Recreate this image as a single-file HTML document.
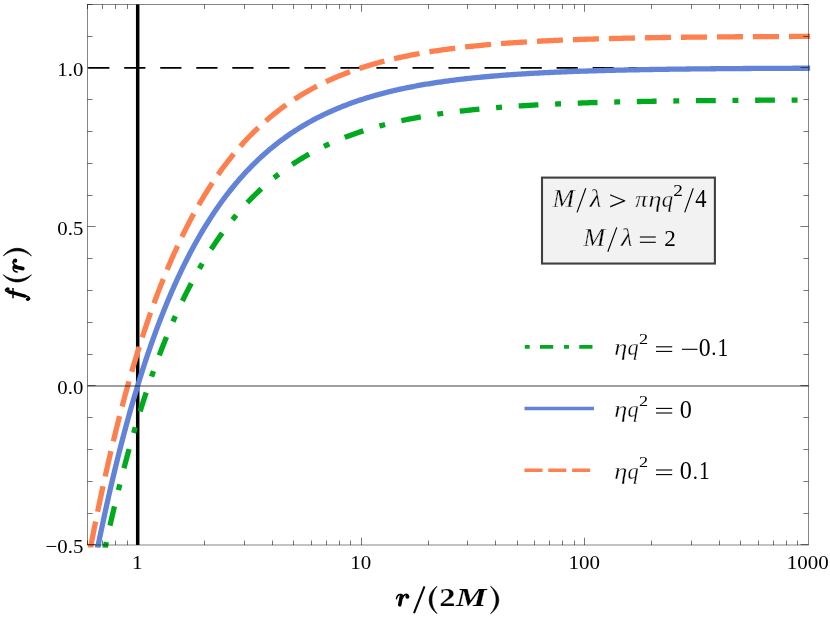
<!DOCTYPE html><html><head><meta charset="utf-8"><title>plot</title>
<style>html,body{margin:0;padding:0;background:#fff;}svg{display:block;will-change:transform;}text{font-family:"Liberation Serif",serif;fill:#000;}</style></head><body>
<svg width="830" height="619" viewBox="0 0 830 619">
<rect width="830" height="619" fill="#fff"/>
<line x1="137.70" y1="4.5" x2="137.70" y2="545.0" stroke="#000" stroke-width="3.5"/>
<line x1="87.5" y1="67.90" x2="808.5" y2="67.90" stroke="#000" stroke-width="1.6" stroke-dasharray="21.2 14.83" stroke-dashoffset="-0.7"/>
<defs><clipPath id="cp"><rect x="80" y="0" width="740" height="547.6"/></clipPath></defs><g clip-path="url(#cp)">
<path d="M105.80,544.61 L104.67,549.79" fill="none" stroke="#00aa1e" stroke-width="5.3"/>
<path d="M98.29,544.61 L97.22,549.80" fill="none" stroke="#6283d7" stroke-width="5.3"/>
<path d="M91.08,544.61 L90.07,549.81" fill="none" stroke="#fd804e" stroke-width="5.3"/>
<path d="M105.73,544.90 L107.14,538.46 L108.54,532.12 L109.94,525.87 L111.35,519.71 L112.75,513.64 L114.15,507.66 L115.56,501.76 L116.96,495.95 L118.37,490.23 L119.77,484.58 L121.17,479.02 L122.58,473.54 L123.98,468.14 L125.38,462.82 L126.79,457.58 L128.19,452.41 L129.59,447.32 L131.00,442.30 L132.40,437.35 L133.80,432.48 L135.21,427.68 L136.61,422.94 L138.01,418.28 L139.42,413.68 L140.82,409.15 L142.23,404.68 L143.63,400.28 L145.03,395.95 L146.44,391.67 L147.84,387.46 L149.24,383.31 L150.65,379.22 L152.05,375.19 L153.45,371.21 L154.86,367.30 L156.26,363.44 L157.66,359.64 L159.07,355.89 L160.47,352.20 L161.87,348.56 L163.28,344.97 L164.68,341.43 L166.09,337.95 L167.49,334.51 L168.89,331.13 L170.30,327.79 L171.70,324.51 L173.10,321.27 L174.51,318.08 L175.91,314.93 L177.31,311.83 L178.72,308.77 L180.12,305.76 L181.52,302.79 L182.93,299.87 L184.33,296.98 L185.73,294.14 L187.14,291.34 L188.54,288.58 L189.95,285.86 L191.35,283.18 L192.75,280.54 L194.16,277.94 L195.56,275.37 L196.96,272.84 L198.37,270.35 L199.77,267.89 L201.17,265.47 L202.58,263.08 L203.98,260.73 L205.38,258.42 L206.79,256.13 L208.19,253.88 L209.59,251.66 L211.00,249.47 L212.40,247.32 L213.81,245.19 L215.21,243.10 L216.61,241.04 L218.02,239.00 L219.42,237.00 L220.82,235.02 L222.23,233.08 L223.63,231.16 L225.03,229.27 L226.44,227.40 L227.84,225.57 L229.24,223.76 L230.65,221.97 L232.05,220.21 L233.45,218.48 L234.86,216.77 L236.26,215.09 L237.67,213.43 L239.07,211.79 L240.47,210.18 L241.88,208.59 L243.28,207.03 L244.68,205.48 L246.09,203.96 L247.49,202.46 L248.89,200.99 L250.30,199.53 L251.70,198.09 L253.10,196.68 L254.51,195.29 L255.91,193.91 L257.32,192.56 L258.72,191.22 L260.12,189.91 L261.53,188.61 L262.93,187.33 L264.33,186.07 L265.74,184.83 L267.14,183.61 L268.54,182.40 L269.95,181.21 L271.35,180.04 L272.75,178.89 L274.16,177.75 L275.56,176.63 L276.96,175.52 L278.37,174.43 L279.77,173.36 L281.18,172.30 L282.58,171.26 L283.98,170.23 L285.39,169.22 L286.79,168.22 L288.19,167.23 L289.60,166.26 L291.00,165.31 L292.40,164.36 L293.81,163.43 L295.21,162.52 L296.61,161.62 L298.02,160.73 L299.42,159.85 L300.82,158.99 L302.23,158.13 L303.63,157.29 L305.04,156.47 L306.44,155.65 L307.84,154.85 L309.25,154.06 L310.65,153.27 L312.05,152.51 L313.46,151.75 L314.86,151.00 L316.26,150.26 L317.67,149.54 L319.07,148.82 L320.47,148.11 L321.88,147.42 L323.28,146.73 L324.68,146.06 L326.09,145.39 L327.49,144.74 L328.90,144.09 L330.30,143.45 L331.70,142.82 L333.11,142.20 L334.51,141.59 L335.91,140.99 L337.32,140.40 L338.72,139.81 L340.12,139.24 L341.53,138.67 L342.93,138.11 L344.33,137.56 L345.74,137.02 L347.14,136.48 L348.54,135.95 L349.95,135.43 L351.35,134.92 L352.76,134.41 L354.16,133.91 L355.56,133.42 L356.97,132.94 L358.37,132.46 L359.77,131.99 L361.18,131.53 L362.58,131.07 L363.98,130.62 L365.39,130.18 L366.79,129.74 L368.19,129.31 L369.60,128.88 L371.00,128.46 L372.40,128.05 L373.81,127.64 L375.21,127.24 L376.62,126.85 L378.02,126.46 L379.42,126.07 L380.83,125.69 L382.23,125.32 L383.63,124.95 L385.04,124.59 L386.44,124.23 L387.84,123.88 L389.25,123.53 L390.65,123.19 L392.05,122.85 L393.46,122.52 L394.86,122.19 L396.26,121.87 L397.67,121.55 L399.07,121.24 L400.48,120.93 L401.88,120.63 L403.28,120.33 L404.69,120.03 L406.09,119.74 L407.49,119.45 L408.90,119.17 L410.30,118.89 L411.70,118.61 L413.11,118.34 L414.51,118.07 L415.91,117.81 L417.32,117.55 L418.72,117.29 L420.12,117.04 L421.53,116.79 L422.93,116.55 L424.34,116.30 L425.74,116.07 L427.14,115.83 L428.55,115.60 L429.95,115.37 L431.35,115.15 L432.76,114.92 L434.16,114.71 L435.56,114.49 L436.97,114.28 L438.37,114.07 L439.77,113.86 L441.18,113.66 L442.58,113.46 L443.98,113.26 L445.39,113.07 L446.79,112.87 L448.20,112.69 L449.60,112.50 L451.00,112.32 L452.41,112.13 L453.81,111.96 L455.21,111.78 L456.62,111.61 L458.02,111.44 L459.42,111.27 L460.83,111.10 L462.23,110.94 L463.63,110.78 L465.04,110.62 L466.44,110.46 L467.85,110.31 L469.25,110.15 L470.65,110.00 L472.06,109.86 L473.46,109.71 L474.86,109.57 L476.27,109.43 L477.67,109.29 L479.07,109.15 L480.48,109.01 L481.88,108.88 L483.28,108.75 L484.69,108.62 L486.09,108.49 L487.49,108.36 L488.90,108.24 L490.30,108.12 L491.71,108.00 L493.11,107.88 L494.51,107.76 L495.92,107.64 L497.32,107.53 L498.72,107.42 L500.13,107.31 L501.53,107.20 L502.93,107.09 L504.34,106.98 L505.74,106.88 L507.14,106.78 L508.55,106.67 L509.95,106.57 L511.35,106.48 L512.76,106.38 L514.16,106.28 L515.57,106.19 L516.97,106.10 L518.37,106.00 L519.78,105.91 L521.18,105.82 L522.58,105.74 L523.99,105.65 L525.39,105.56 L526.79,105.48 L528.20,105.40 L529.60,105.31 L531.00,105.23 L532.41,105.15 L533.81,105.08 L535.21,105.00 L536.62,104.92 L538.02,104.85 L539.43,104.77 L540.83,104.70 L542.23,104.63 L543.64,104.56 L545.04,104.49 L546.44,104.42 L547.85,104.35 L549.25,104.29 L550.65,104.22 L552.06,104.16 L553.46,104.09 L554.86,104.03 L556.27,103.97 L557.67,103.91 L559.07,103.84 L560.48,103.79 L561.88,103.73 L563.29,103.67 L564.69,103.61 L566.09,103.56 L567.50,103.50 L568.90,103.45 L570.30,103.39 L571.71,103.34 L573.11,103.29 L574.51,103.24 L575.92,103.18 L577.32,103.13 L578.72,103.09 L580.13,103.04 L581.53,102.99 L582.93,102.94 L584.34,102.90 L585.74,102.85 L587.15,102.80 L588.55,102.76 L589.95,102.72 L591.36,102.67 L592.76,102.63 L594.16,102.59 L595.57,102.55 L596.97,102.51 L598.37,102.47 L599.78,102.43 L601.18,102.39 L602.58,102.35 L603.99,102.31 L605.39,102.27 L606.79,102.24 L608.20,102.20 L609.60,102.16 L611.01,102.13 L612.41,102.09 L613.81,102.06 L615.22,102.02 L616.62,101.99 L618.02,101.96 L619.43,101.93 L620.83,101.89 L622.23,101.86 L623.64,101.83 L625.04,101.80 L626.44,101.77 L627.85,101.74 L629.25,101.71 L630.65,101.68 L632.06,101.65 L633.46,101.63 L634.87,101.60 L636.27,101.57 L637.67,101.54 L639.08,101.52 L640.48,101.49 L641.88,101.47 L643.29,101.44 L644.69,101.42 L646.09,101.39 L647.50,101.37 L648.90,101.34 L650.30,101.32 L651.71,101.30 L653.11,101.27 L654.51,101.25 L655.92,101.23 L657.32,101.21 L658.73,101.19 L660.13,101.16 L661.53,101.14 L662.94,101.12 L664.34,101.10 L665.74,101.08 L667.15,101.06 L668.55,101.04 L669.95,101.02 L671.36,101.00 L672.76,100.99 L674.16,100.97 L675.57,100.95 L676.97,100.93 L678.37,100.91 L679.78,100.90 L681.18,100.88 L682.59,100.86 L683.99,100.85 L685.39,100.83 L686.80,100.81 L688.20,100.80 L689.60,100.78 L691.01,100.77 L692.41,100.75 L693.81,100.73 L695.22,100.72 L696.62,100.71 L698.02,100.69 L699.43,100.68 L700.83,100.66 L702.24,100.65 L703.64,100.64 L705.04,100.62 L706.45,100.61 L707.85,100.60 L709.25,100.58 L710.66,100.57 L712.06,100.56 L713.46,100.55 L714.87,100.53 L716.27,100.52 L717.67,100.51 L719.08,100.50 L720.48,100.49 L721.88,100.48 L723.29,100.46 L724.69,100.45 L726.10,100.44 L727.50,100.43 L728.90,100.42 L730.31,100.41 L731.71,100.40 L733.11,100.39 L734.52,100.38 L735.92,100.37 L737.32,100.36 L738.73,100.35 L740.13,100.34 L741.53,100.33 L742.94,100.32 L744.34,100.32 L745.74,100.31 L747.15,100.30 L748.55,100.29 L749.96,100.28 L751.36,100.27 L752.76,100.26 L754.17,100.26 L755.57,100.25 L756.97,100.24 L758.38,100.23 L759.78,100.22 L761.18,100.22 L762.59,100.21 L763.99,100.20 L765.39,100.20 L766.80,100.19 L768.20,100.18 L769.60,100.17 L771.01,100.17 L772.41,100.16 L773.82,100.15 L775.22,100.15 L776.62,100.14 L778.03,100.13 L779.43,100.13 L780.83,100.12 L782.24,100.12 L783.64,100.11 L785.04,100.10 L786.45,100.10 L787.85,100.09 L789.25,100.09 L790.66,100.08 L792.06,100.08 L793.46,100.07 L794.87,100.07 L796.27,100.06 L797.68,100.06 L799.08,100.05 L800.48,100.05 L801.89,100.04 L803.29,100.04 L804.69,100.03 L806.10,100.03 L807.50,100.02" fill="none" stroke="#00aa1e" stroke-width="5.3" stroke-linecap="square" stroke-dasharray="0.6 22.02 14.5 22.02" stroke-dashoffset="0.3"/>
<path d="M98.23,544.90 L99.64,537.98 L101.06,531.17 L102.48,524.45 L103.90,517.83 L105.32,511.30 L106.74,504.87 L108.16,498.54 L109.57,492.29 L110.99,486.14 L112.41,480.07 L113.83,474.09 L115.25,468.20 L116.67,462.40 L118.09,456.68 L119.50,451.04 L120.92,445.48 L122.34,440.01 L123.76,434.61 L125.18,429.29 L126.60,424.05 L128.02,418.89 L129.43,413.80 L130.85,408.78 L132.27,403.84 L133.69,398.97 L135.11,394.17 L136.53,389.43 L137.95,384.77 L139.36,380.18 L140.78,375.65 L142.20,371.18 L143.62,366.79 L145.04,362.45 L146.46,358.18 L147.88,353.97 L149.29,349.82 L150.71,345.73 L152.13,341.70 L153.55,337.73 L154.97,333.82 L156.39,329.96 L157.81,326.16 L159.22,322.42 L160.64,318.73 L162.06,315.09 L163.48,311.51 L164.90,307.97 L166.32,304.49 L167.73,301.06 L169.15,297.68 L170.57,294.35 L171.99,291.06 L173.41,287.83 L174.83,284.64 L176.25,281.50 L177.66,278.40 L179.08,275.34 L180.50,272.34 L181.92,269.37 L183.34,266.45 L184.76,263.57 L186.18,260.73 L187.59,257.94 L189.01,255.18 L190.43,252.47 L191.85,249.79 L193.27,247.15 L194.69,244.55 L196.11,241.99 L197.52,239.47 L198.94,236.98 L200.36,234.53 L201.78,232.11 L203.20,229.73 L204.62,227.38 L206.04,225.07 L207.45,222.79 L208.87,220.54 L210.29,218.33 L211.71,216.15 L213.13,214.00 L214.55,211.88 L215.97,209.79 L217.38,207.73 L218.80,205.71 L220.22,203.71 L221.64,201.74 L223.06,199.80 L224.48,197.88 L225.90,196.00 L227.31,194.14 L228.73,192.31 L230.15,190.51 L231.57,188.73 L232.99,186.98 L234.41,185.25 L235.83,183.55 L237.24,181.87 L238.66,180.22 L240.08,178.59 L241.50,176.98 L242.92,175.40 L244.34,173.84 L245.75,172.31 L247.17,170.79 L248.59,169.30 L250.01,167.83 L251.43,166.38 L252.85,164.95 L254.27,163.55 L255.68,162.16 L257.10,160.79 L258.52,159.44 L259.94,158.12 L261.36,156.81 L262.78,155.52 L264.20,154.25 L265.61,153.00 L267.03,151.76 L268.45,150.55 L269.87,149.35 L271.29,148.17 L272.71,147.00 L274.13,145.86 L275.54,144.72 L276.96,143.61 L278.38,142.51 L279.80,141.43 L281.22,140.36 L282.64,139.31 L284.06,138.28 L285.47,137.26 L286.89,136.25 L288.31,135.26 L289.73,134.28 L291.15,133.32 L292.57,132.37 L293.99,131.44 L295.40,130.52 L296.82,129.61 L298.24,128.71 L299.66,127.83 L301.08,126.96 L302.50,126.11 L303.92,125.26 L305.33,124.43 L306.75,123.61 L308.17,122.80 L309.59,122.01 L311.01,121.22 L312.43,120.45 L313.85,119.69 L315.26,118.93 L316.68,118.19 L318.10,117.47 L319.52,116.75 L320.94,116.04 L322.36,115.34 L323.78,114.65 L325.19,113.97 L326.61,113.31 L328.03,112.65 L329.45,112.00 L330.87,111.36 L332.29,110.73 L333.70,110.11 L335.12,109.50 L336.54,108.89 L337.96,108.30 L339.38,107.71 L340.80,107.13 L342.22,106.57 L343.63,106.01 L345.05,105.45 L346.47,104.91 L347.89,104.37 L349.31,103.84 L350.73,103.32 L352.15,102.81 L353.56,102.30 L354.98,101.80 L356.40,101.31 L357.82,100.83 L359.24,100.35 L360.66,99.88 L362.08,99.41 L363.49,98.96 L364.91,98.51 L366.33,98.06 L367.75,97.63 L369.17,97.19 L370.59,96.77 L372.01,96.35 L373.42,95.94 L374.84,95.53 L376.26,95.13 L377.68,94.74 L379.10,94.35 L380.52,93.96 L381.94,93.59 L383.35,93.21 L384.77,92.85 L386.19,92.48 L387.61,92.13 L389.03,91.78 L390.45,91.43 L391.87,91.09 L393.28,90.75 L394.70,90.42 L396.12,90.09 L397.54,89.77 L398.96,89.46 L400.38,89.14 L401.80,88.84 L403.21,88.53 L404.63,88.23 L406.05,87.94 L407.47,87.65 L408.89,87.36 L410.31,87.08 L411.73,86.80 L413.14,86.53 L414.56,86.26 L415.98,85.99 L417.40,85.73 L418.82,85.47 L420.24,85.21 L421.65,84.96 L423.07,84.72 L424.49,84.47 L425.91,84.23 L427.33,83.99 L428.75,83.76 L430.17,83.53 L431.58,83.30 L433.00,83.08 L434.42,82.86 L435.84,82.64 L437.26,82.43 L438.68,82.22 L440.10,82.01 L441.51,81.81 L442.93,81.61 L444.35,81.41 L445.77,81.21 L447.19,81.02 L448.61,80.83 L450.03,80.64 L451.44,80.46 L452.86,80.27 L454.28,80.09 L455.70,79.92 L457.12,79.74 L458.54,79.57 L459.96,79.40 L461.37,79.23 L462.79,79.07 L464.21,78.91 L465.63,78.75 L467.05,78.59 L468.47,78.44 L469.89,78.28 L471.30,78.13 L472.72,77.98 L474.14,77.84 L475.56,77.69 L476.98,77.55 L478.40,77.41 L479.82,77.27 L481.23,77.14 L482.65,77.00 L484.07,76.87 L485.49,76.74 L486.91,76.61 L488.33,76.49 L489.75,76.36 L491.16,76.24 L492.58,76.12 L494.00,76.00 L495.42,75.88 L496.84,75.77 L498.26,75.65 L499.68,75.54 L501.09,75.43 L502.51,75.32 L503.93,75.21 L505.35,75.11 L506.77,75.00 L508.19,74.90 L509.60,74.80 L511.02,74.70 L512.44,74.60 L513.86,74.50 L515.28,74.41 L516.70,74.31 L518.12,74.22 L519.53,74.13 L520.95,74.04 L522.37,73.95 L523.79,73.86 L525.21,73.77 L526.63,73.69 L528.05,73.60 L529.46,73.52 L530.88,73.44 L532.30,73.36 L533.72,73.28 L535.14,73.20 L536.56,73.13 L537.98,73.05 L539.39,72.98 L540.81,72.90 L542.23,72.83 L543.65,72.76 L545.07,72.69 L546.49,72.62 L547.91,72.55 L549.32,72.48 L550.74,72.42 L552.16,72.35 L553.58,72.29 L555.00,72.22 L556.42,72.16 L557.84,72.10 L559.25,72.04 L560.67,71.98 L562.09,71.92 L563.51,71.86 L564.93,71.80 L566.35,71.75 L567.77,71.69 L569.18,71.63 L570.60,71.58 L572.02,71.53 L573.44,71.47 L574.86,71.42 L576.28,71.37 L577.70,71.32 L579.11,71.27 L580.53,71.22 L581.95,71.17 L583.37,71.13 L584.79,71.08 L586.21,71.03 L587.63,70.99 L589.04,70.94 L590.46,70.90 L591.88,70.86 L593.30,70.81 L594.72,70.77 L596.14,70.73 L597.55,70.69 L598.97,70.65 L600.39,70.61 L601.81,70.57 L603.23,70.53 L604.65,70.49 L606.07,70.45 L607.48,70.42 L608.90,70.38 L610.32,70.35 L611.74,70.31 L613.16,70.27 L614.58,70.24 L616.00,70.21 L617.41,70.17 L618.83,70.14 L620.25,70.11 L621.67,70.08 L623.09,70.04 L624.51,70.01 L625.93,69.98 L627.34,69.95 L628.76,69.92 L630.18,69.89 L631.60,69.86 L633.02,69.84 L634.44,69.81 L635.86,69.78 L637.27,69.75 L638.69,69.73 L640.11,69.70 L641.53,69.67 L642.95,69.65 L644.37,69.62 L645.79,69.60 L647.20,69.57 L648.62,69.55 L650.04,69.52 L651.46,69.50 L652.88,69.48 L654.30,69.45 L655.72,69.43 L657.13,69.41 L658.55,69.39 L659.97,69.37 L661.39,69.35 L662.81,69.32 L664.23,69.30 L665.65,69.28 L667.06,69.26 L668.48,69.24 L669.90,69.22 L671.32,69.20 L672.74,69.19 L674.16,69.17 L675.58,69.15 L676.99,69.13 L678.41,69.11 L679.83,69.10 L681.25,69.08 L682.67,69.06 L684.09,69.04 L685.50,69.03 L686.92,69.01 L688.34,68.99 L689.76,68.98 L691.18,68.96 L692.60,68.95 L694.02,68.93 L695.43,68.92 L696.85,68.90 L698.27,68.89 L699.69,68.87 L701.11,68.86 L702.53,68.85 L703.95,68.83 L705.36,68.82 L706.78,68.81 L708.20,68.79 L709.62,68.78 L711.04,68.77 L712.46,68.75 L713.88,68.74 L715.29,68.73 L716.71,68.72 L718.13,68.71 L719.55,68.69 L720.97,68.68 L722.39,68.67 L723.81,68.66 L725.22,68.65 L726.64,68.64 L728.06,68.63 L729.48,68.62 L730.90,68.61 L732.32,68.60 L733.74,68.59 L735.15,68.58 L736.57,68.57 L737.99,68.56 L739.41,68.55 L740.83,68.54 L742.25,68.53 L743.67,68.52 L745.08,68.51 L746.50,68.50 L747.92,68.49 L749.34,68.48 L750.76,68.48 L752.18,68.47 L753.60,68.46 L755.01,68.45 L756.43,68.44 L757.85,68.44 L759.27,68.43 L760.69,68.42 L762.11,68.41 L763.53,68.40 L764.94,68.40 L766.36,68.39 L767.78,68.38 L769.20,68.38 L770.62,68.37 L772.04,68.36 L773.45,68.36 L774.87,68.35 L776.29,68.34 L777.71,68.34 L779.13,68.33 L780.55,68.32 L781.97,68.32 L783.38,68.31 L784.80,68.31 L786.22,68.30 L787.64,68.29 L789.06,68.29 L790.48,68.28 L791.90,68.28 L793.31,68.27 L794.73,68.27 L796.15,68.26 L797.57,68.26 L798.99,68.25 L800.41,68.25 L801.83,68.24 L803.24,68.24 L804.66,68.23 L806.08,68.23 L807.50,68.22" fill="none" stroke="#6283d7" stroke-width="5.3" stroke-linecap="square"/>
<path d="M91.02,544.90 L92.46,537.51 L93.89,530.23 L95.32,523.05 L96.75,515.98 L98.19,509.01 L99.62,502.14 L101.05,495.37 L102.49,488.69 L103.92,482.12 L105.35,475.63 L106.78,469.25 L108.22,462.95 L109.65,456.74 L111.08,450.63 L112.52,444.60 L113.95,438.66 L115.38,432.81 L116.82,427.04 L118.25,421.35 L119.68,415.75 L121.11,410.22 L122.55,404.78 L123.98,399.42 L125.41,394.13 L126.85,388.92 L128.28,383.79 L129.71,378.72 L131.15,373.74 L132.58,368.82 L134.01,363.98 L135.44,359.20 L136.88,354.50 L138.31,349.86 L139.74,345.29 L141.18,340.79 L142.61,336.35 L144.04,331.98 L145.47,327.67 L146.91,323.42 L148.34,319.24 L149.77,315.11 L151.21,311.04 L152.64,307.04 L154.07,303.09 L155.51,299.20 L156.94,295.36 L158.37,291.58 L159.80,287.86 L161.24,284.19 L162.67,280.57 L164.10,277.01 L165.54,273.50 L166.97,270.03 L168.40,266.62 L169.83,263.26 L171.27,259.95 L172.70,256.68 L174.13,253.46 L175.57,250.29 L177.00,247.17 L178.43,244.09 L179.87,241.06 L181.30,238.06 L182.73,235.12 L184.16,232.21 L185.60,229.35 L187.03,226.53 L188.46,223.75 L189.90,221.01 L191.33,218.31 L192.76,215.65 L194.20,213.03 L195.63,210.45 L197.06,207.91 L198.49,205.40 L199.93,202.92 L201.36,200.49 L202.79,198.09 L204.23,195.72 L205.66,193.39 L207.09,191.10 L208.52,188.83 L209.96,186.60 L211.39,184.40 L212.82,182.24 L214.26,180.10 L215.69,178.00 L217.12,175.93 L218.56,173.88 L219.99,171.87 L221.42,169.89 L222.85,167.93 L224.29,166.01 L225.72,164.11 L227.15,162.24 L228.59,160.39 L230.02,158.58 L231.45,156.79 L232.88,155.02 L234.32,153.29 L235.75,151.57 L237.18,149.89 L238.62,148.22 L240.05,146.58 L241.48,144.97 L242.92,143.38 L244.35,141.81 L245.78,140.26 L247.21,138.74 L248.65,137.24 L250.08,135.76 L251.51,134.31 L252.95,132.87 L254.38,131.46 L255.81,130.06 L257.25,128.69 L258.68,127.33 L260.11,126.00 L261.54,124.68 L262.98,123.39 L264.41,122.11 L265.84,120.86 L267.28,119.62 L268.71,118.39 L270.14,117.19 L271.57,116.00 L273.01,114.84 L274.44,113.68 L275.87,112.55 L277.31,111.43 L278.74,110.33 L280.17,109.24 L281.61,108.17 L283.04,107.12 L284.47,106.08 L285.90,105.06 L287.34,104.05 L288.77,103.05 L290.20,102.08 L291.64,101.11 L293.07,100.16 L294.50,99.22 L295.94,98.30 L297.37,97.39 L298.80,96.49 L300.23,95.61 L301.67,94.74 L303.10,93.88 L304.53,93.03 L305.97,92.20 L307.40,91.38 L308.83,90.57 L310.26,89.77 L311.70,88.99 L313.13,88.21 L314.56,87.45 L316.00,86.70 L317.43,85.96 L318.86,85.23 L320.30,84.51 L321.73,83.80 L323.16,83.11 L324.59,82.42 L326.03,81.74 L327.46,81.07 L328.89,80.41 L330.33,79.76 L331.76,79.13 L333.19,78.50 L334.62,77.88 L336.06,77.26 L337.49,76.66 L338.92,76.07 L340.36,75.48 L341.79,74.91 L343.22,74.34 L344.66,73.78 L346.09,73.23 L347.52,72.68 L348.95,72.15 L350.39,71.62 L351.82,71.10 L353.25,70.59 L354.69,70.08 L356.12,69.59 L357.55,69.10 L358.99,68.61 L360.42,68.14 L361.85,67.67 L363.28,67.21 L364.72,66.75 L366.15,66.30 L367.58,65.86 L369.02,65.42 L370.45,64.99 L371.88,64.57 L373.31,64.15 L374.75,63.74 L376.18,63.34 L377.61,62.94 L379.05,62.55 L380.48,62.16 L381.91,61.78 L383.35,61.40 L384.78,61.03 L386.21,60.67 L387.64,60.31 L389.08,59.95 L390.51,59.60 L391.94,59.26 L393.38,58.92 L394.81,58.59 L396.24,58.26 L397.67,57.93 L399.11,57.61 L400.54,57.30 L401.97,56.99 L403.41,56.68 L404.84,56.38 L406.27,56.08 L407.71,55.79 L409.14,55.50 L410.57,55.22 L412.00,54.94 L413.44,54.66 L414.87,54.39 L416.30,54.12 L417.74,53.86 L419.17,53.60 L420.60,53.34 L422.04,53.09 L423.47,52.84 L424.90,52.60 L426.33,52.36 L427.77,52.12 L429.20,51.88 L430.63,51.65 L432.07,51.42 L433.50,51.20 L434.93,50.98 L436.36,50.76 L437.80,50.55 L439.23,50.33 L440.66,50.13 L442.10,49.92 L443.53,49.72 L444.96,49.52 L446.40,49.32 L447.83,49.13 L449.26,48.94 L450.69,48.75 L452.13,48.56 L453.56,48.38 L454.99,48.20 L456.43,48.02 L457.86,47.85 L459.29,47.68 L460.72,47.51 L462.16,47.34 L463.59,47.18 L465.02,47.01 L466.46,46.85 L467.89,46.70 L469.32,46.54 L470.76,46.39 L472.19,46.24 L473.62,46.09 L475.05,45.94 L476.49,45.80 L477.92,45.66 L479.35,45.52 L480.79,45.38 L482.22,45.24 L483.65,45.11 L485.09,44.98 L486.52,44.85 L487.95,44.72 L489.38,44.59 L490.82,44.47 L492.25,44.35 L493.68,44.23 L495.12,44.11 L496.55,43.99 L497.98,43.87 L499.41,43.76 L500.85,43.65 L502.28,43.54 L503.71,43.43 L505.15,43.32 L506.58,43.22 L508.01,43.11 L509.45,43.01 L510.88,42.91 L512.31,42.81 L513.74,42.71 L515.18,42.61 L516.61,42.52 L518.04,42.42 L519.48,42.33 L520.91,42.24 L522.34,42.15 L523.77,42.06 L525.21,41.97 L526.64,41.89 L528.07,41.80 L529.51,41.72 L530.94,41.64 L532.37,41.56 L533.81,41.48 L535.24,41.40 L536.67,41.32 L538.10,41.24 L539.54,41.17 L540.97,41.09 L542.40,41.02 L543.84,40.95 L545.27,40.88 L546.70,40.81 L548.14,40.74 L549.57,40.67 L551.00,40.60 L552.43,40.54 L553.87,40.47 L555.30,40.41 L556.73,40.35 L558.17,40.28 L559.60,40.22 L561.03,40.16 L562.46,40.10 L563.90,40.04 L565.33,39.99 L566.76,39.93 L568.20,39.87 L569.63,39.82 L571.06,39.76 L572.50,39.71 L573.93,39.66 L575.36,39.60 L576.79,39.55 L578.23,39.50 L579.66,39.45 L581.09,39.40 L582.53,39.36 L583.96,39.31 L585.39,39.26 L586.82,39.21 L588.26,39.17 L589.69,39.12 L591.12,39.08 L592.56,39.04 L593.99,38.99 L595.42,38.95 L596.86,38.91 L598.29,38.87 L599.72,38.83 L601.15,38.79 L602.59,38.75 L604.02,38.71 L605.45,38.67 L606.89,38.63 L608.32,38.60 L609.75,38.56 L611.19,38.52 L612.62,38.49 L614.05,38.45 L615.48,38.42 L616.92,38.38 L618.35,38.35 L619.78,38.32 L621.22,38.29 L622.65,38.25 L624.08,38.22 L625.51,38.19 L626.95,38.16 L628.38,38.13 L629.81,38.10 L631.25,38.07 L632.68,38.04 L634.11,38.01 L635.55,37.99 L636.98,37.96 L638.41,37.93 L639.84,37.90 L641.28,37.88 L642.71,37.85 L644.14,37.83 L645.58,37.80 L647.01,37.78 L648.44,37.75 L649.87,37.73 L651.31,37.70 L652.74,37.68 L654.17,37.66 L655.61,37.63 L657.04,37.61 L658.47,37.59 L659.91,37.57 L661.34,37.55 L662.77,37.52 L664.20,37.50 L665.64,37.48 L667.07,37.46 L668.50,37.44 L669.94,37.42 L671.37,37.40 L672.80,37.38 L674.24,37.37 L675.67,37.35 L677.10,37.33 L678.53,37.31 L679.97,37.29 L681.40,37.28 L682.83,37.26 L684.27,37.24 L685.70,37.23 L687.13,37.21 L688.56,37.19 L690.00,37.18 L691.43,37.16 L692.86,37.15 L694.30,37.13 L695.73,37.11 L697.16,37.10 L698.60,37.09 L700.03,37.07 L701.46,37.06 L702.89,37.04 L704.33,37.03 L705.76,37.02 L707.19,37.00 L708.63,36.99 L710.06,36.98 L711.49,36.96 L712.92,36.95 L714.36,36.94 L715.79,36.93 L717.22,36.91 L718.66,36.90 L720.09,36.89 L721.52,36.88 L722.96,36.87 L724.39,36.86 L725.82,36.84 L727.25,36.83 L728.69,36.82 L730.12,36.81 L731.55,36.80 L732.99,36.79 L734.42,36.78 L735.85,36.77 L737.29,36.76 L738.72,36.75 L740.15,36.74 L741.58,36.73 L743.02,36.72 L744.45,36.71 L745.88,36.71 L747.32,36.70 L748.75,36.69 L750.18,36.68 L751.61,36.67 L753.05,36.66 L754.48,36.65 L755.91,36.65 L757.35,36.64 L758.78,36.63 L760.21,36.62 L761.65,36.61 L763.08,36.61 L764.51,36.60 L765.94,36.59 L767.38,36.59 L768.81,36.58 L770.24,36.57 L771.68,36.56 L773.11,36.56 L774.54,36.55 L775.97,36.54 L777.41,36.54 L778.84,36.53 L780.27,36.52 L781.71,36.52 L783.14,36.51 L784.57,36.51 L786.01,36.50 L787.44,36.49 L788.87,36.49 L790.30,36.48 L791.74,36.48 L793.17,36.47 L794.60,36.47 L796.04,36.46 L797.47,36.46 L798.90,36.45 L800.34,36.45 L801.77,36.44 L803.20,36.44 L804.63,36.43 L806.07,36.43 L807.50,36.42" fill="none" stroke="#fd804e" stroke-width="5.3" stroke-linecap="square" stroke-dasharray="20.7 15.32" stroke-dashoffset="-0.5"/>
</g>
<line x1="87.5" y1="386.00" x2="808.5" y2="386.00" stroke="#000" stroke-opacity="0.5" stroke-width="1.56"/>
<rect x="87.5" y="4.5" width="721.0" height="540.5" fill="none" stroke="#000" stroke-opacity="0.6" stroke-width="0.8"/>
<path d="M87.50,545.00 v-4.5 M87.50,4.50 v4.5 M102.50,545.00 v-4.5 M102.50,4.50 v4.5 M115.50,545.00 v-4.5 M115.50,4.50 v4.5 M127.50,545.00 v-4.5 M127.50,4.50 v4.5 M137.50,545.00 v-7.3 M137.50,4.50 v7.3 M204.50,545.00 v-4.5 M204.50,4.50 v4.5 M244.50,545.00 v-4.5 M244.50,4.50 v4.5 M272.50,545.00 v-4.5 M272.50,4.50 v4.5 M293.50,545.00 v-4.5 M293.50,4.50 v4.5 M311.50,545.00 v-4.5 M311.50,4.50 v4.5 M326.50,545.00 v-4.5 M326.50,4.50 v4.5 M339.50,545.00 v-4.5 M339.50,4.50 v4.5 M350.50,545.00 v-4.5 M350.50,4.50 v4.5 M361.50,545.00 v-7.3 M361.50,4.50 v7.3 M428.50,545.00 v-4.5 M428.50,4.50 v4.5 M467.50,545.00 v-4.5 M467.50,4.50 v4.5 M495.50,545.00 v-4.5 M495.50,4.50 v4.5 M517.50,545.00 v-4.5 M517.50,4.50 v4.5 M534.50,545.00 v-4.5 M534.50,4.50 v4.5 M549.50,545.00 v-4.5 M549.50,4.50 v4.5 M562.50,545.00 v-4.5 M562.50,4.50 v4.5 M574.50,545.00 v-4.5 M574.50,4.50 v4.5 M584.50,545.00 v-7.3 M584.50,4.50 v7.3 M651.50,545.00 v-4.5 M651.50,4.50 v4.5 M691.50,545.00 v-4.5 M691.50,4.50 v4.5 M719.50,545.00 v-4.5 M719.50,4.50 v4.5 M740.50,545.00 v-4.5 M740.50,4.50 v4.5 M758.50,545.00 v-4.5 M758.50,4.50 v4.5 M773.50,545.00 v-4.5 M773.50,4.50 v4.5 M786.50,545.00 v-4.5 M786.50,4.50 v4.5 M797.50,545.00 v-4.5 M797.50,4.50 v4.5 M87.50,544.50 h8.0 M808.50,544.50 h-8.0 M87.50,513.50 h5.1 M808.50,513.50 h-5.1 M87.50,481.50 h5.1 M808.50,481.50 h-5.1 M87.50,449.50 h5.1 M808.50,449.50 h-5.1 M87.50,417.50 h5.1 M808.50,417.50 h-5.1 M87.50,385.50 h8.0 M808.50,385.50 h-8.0 M87.50,354.50 h5.1 M808.50,354.50 h-5.1 M87.50,322.50 h5.1 M808.50,322.50 h-5.1 M87.50,290.50 h5.1 M808.50,290.50 h-5.1 M87.50,258.50 h5.1 M808.50,258.50 h-5.1 M87.50,226.50 h8.0 M808.50,226.50 h-8.0 M87.50,195.50 h5.1 M808.50,195.50 h-5.1 M87.50,163.50 h5.1 M808.50,163.50 h-5.1 M87.50,131.50 h5.1 M808.50,131.50 h-5.1 M87.50,99.50 h5.1 M808.50,99.50 h-5.1 M87.50,67.50 h8.0 M808.50,67.50 h-8.0 M87.50,36.50 h5.1 M808.50,36.50 h-5.1 M87.50,4.50 h5.1 M808.50,4.50 h-5.1" fill="none" stroke="#000" stroke-opacity="0.6" stroke-width="0.9"/>
<text transform="translate(83.3,75.9) scale(1.05,1)" font-size="19.8" text-anchor="end">1.0</text>
<text transform="translate(83.3,234.9) scale(1.05,1)" font-size="19.8" text-anchor="end">0.5</text>
<text transform="translate(83.3,393.9) scale(1.05,1)" font-size="19.8" text-anchor="end">0.0</text>
<text transform="translate(83.3,552.9) scale(1.05,1)" font-size="19.8" text-anchor="end">−0.5</text>
<text transform="translate(137.3,568.6) scale(1.06,1)" font-size="19.8" text-anchor="middle">1</text>
<text transform="translate(360.8,568.6) scale(1.06,1)" font-size="19.8" text-anchor="middle">10</text>
<text transform="translate(584.3,568.6) scale(1.06,1)" font-size="19.8" text-anchor="middle">100</text>
<text transform="translate(807.8,568.6) scale(1.06,1)" font-size="19.8" text-anchor="middle">1000</text>
<rect x="542.0" y="177.6" width="172.9" height="85.95" fill="#f2f2f2" stroke="#404040" stroke-width="2.1"/>
<line x1="524.8" y1="346.9" x2="592.6" y2="346.9" stroke="#00aa1e" stroke-width="3.6" stroke-dasharray="4.9 10.3 13.2 10.86"/>
<line x1="524.5" y1="408.5" x2="594" y2="408.5" stroke="#6283d7" stroke-width="3.5"/>
<line x1="524.5" y1="470.35" x2="594" y2="470.35" stroke="#fd804e" stroke-width="3.5" stroke-dasharray="18 5.8"/>
<text transform="translate(552.41,206.90) scale(1.0989,1.0730)" font-size="24" font-style="italic" stroke="#f2f2f2" stroke-width="0.3">M</text>
<text transform="translate(589.75,207.10) scale(1.1310,1.0203)" font-size="24" font-style="italic" stroke="#f2f2f2" stroke-width="0.3">λ</text>
<text transform="translate(608.47,209.79) scale(1.3591,1.1667)" font-size="24" >&gt;</text>
<text transform="translate(635.00,206.73) scale(1.0431,0.9806)" font-size="24" font-style="italic" stroke="#f2f2f2" stroke-width="0.3">π</text>
<text transform="translate(648.59,206.93) scale(1.0857,0.9659)" font-size="24" font-style="italic" stroke="#f2f2f2" stroke-width="0.3">η</text>
<text transform="translate(661.69,206.93) scale(0.9471,0.9659)" font-size="24" font-style="italic" stroke="#f2f2f2" stroke-width="0.3">q</text>
<text transform="translate(673.20,196.30) scale(0.8000,0.6822)" font-size="24" >2</text>
<text transform="translate(695.15,207.10) scale(0.9422,1.0419)" font-size="24" >4</text>
<text transform="translate(583.36,245.85) scale(1.0966,1.0698)" font-size="24" font-style="italic" stroke="#f2f2f2" stroke-width="0.3">M</text>
<text transform="translate(620.94,246.10) scale(1.1218,1.0145)" font-size="24" font-style="italic" stroke="#f2f2f2" stroke-width="0.3">λ</text>
<text transform="translate(664.17,246.10) scale(0.9679,0.9612)" font-size="24" >2</text>
<text transform="translate(614.28,355.34) scale(1.0952,0.9837)" font-size="24" font-style="italic" stroke="#fff" stroke-width="0.3">η</text>
<text transform="translate(627.40,355.34) scale(0.9287,0.9837)" font-size="24" font-style="italic" stroke="#fff" stroke-width="0.3">q</text>
<text transform="translate(639.03,344.20) scale(0.7605,0.6450)" font-size="24" >2</text>
<text transform="translate(698.86,355.90) scale(0.9905,1.0606)" font-size="24" >0</text>
<text transform="translate(711.30,355.49) scale(0.8667,0.8333)" font-size="24" >.</text>
<text transform="translate(717.51,355.60) scale(0.9000,1.0295)" font-size="24" >1</text>
<text transform="translate(614.28,416.94) scale(1.0952,0.9837)" font-size="24" font-style="italic" stroke="#fff" stroke-width="0.3">η</text>
<text transform="translate(627.40,416.94) scale(0.9287,0.9837)" font-size="24" font-style="italic" stroke="#fff" stroke-width="0.3">q</text>
<text transform="translate(639.03,405.80) scale(0.7605,0.6450)" font-size="24" >2</text>
<text transform="translate(679.74,417.50) scale(1.0095,1.0606)" font-size="24" >0</text>
<text transform="translate(614.28,478.54) scale(1.0952,0.9837)" font-size="24" font-style="italic" stroke="#fff" stroke-width="0.3">η</text>
<text transform="translate(627.40,478.54) scale(0.9287,0.9837)" font-size="24" font-style="italic" stroke="#fff" stroke-width="0.3">q</text>
<text transform="translate(639.03,467.40) scale(0.7605,0.6450)" font-size="24" >2</text>
<text transform="translate(679.74,479.10) scale(1.0095,1.0606)" font-size="24" >0</text>
<text transform="translate(692.70,478.69) scale(0.8667,0.8333)" font-size="24" >.</text>
<text transform="translate(698.93,478.80) scale(0.8889,1.0295)" font-size="24" >1</text>
<text transform="translate(439.19,606.30) scale(1.3524,1.0109)" font-size="24" font-weight="bold" stroke="#fff" stroke-width="0.2">2</text>
<text transform="translate(455.64,606.30) scale(1.4489,1.0349)" font-size="24" font-style="italic" font-weight="bold" stroke="#fff" stroke-width="0.2">M</text>
<line x1="577.03" y1="212.40" x2="585.77" y2="188.20" stroke="#000" stroke-width="1.15"/>
<line x1="684.73" y1="212.40" x2="693.27" y2="188.20" stroke="#000" stroke-width="1.15"/>
<line x1="607.83" y1="251.70" x2="616.77" y2="227.40" stroke="#000" stroke-width="1.15"/>
<line x1="414.00" y1="613.20" x2="424.50" y2="586.30" stroke="#000" stroke-width="2.00"/>
<g transform="translate(396.20,606.30) scale(1.000,1.000)"><path d="M0.3,-7.6 C0.8,-10.3 2.3,-12.2 4.6,-11.8" fill="none" stroke="#000" stroke-width="1.5" stroke-linecap="round"/><path d="M5.3,-10.7 L3.5,-1.4" fill="none" stroke="#000" stroke-width="3.5" stroke-linecap="round"/><path d="M6.2,-8.4 C7.3,-11.6 9.8,-12.9 11.8,-11.0" fill="none" stroke="#000" stroke-width="1.7" stroke-linecap="round"/><circle cx="11.2" cy="-9.5" r="2.0"/></g><path d="M437.10,586.20 C426.57,593.90 426.57,606.00 437.10,613.70 C430.17,606.00 430.17,593.90 437.10,586.20Z" stroke="#000" stroke-width="0.6" stroke-linejoin="round"/><path d="M490.50,586.20 C501.57,593.90 501.57,606.00 490.50,613.70 C497.97,606.00 497.97,593.90 490.50,586.20Z" stroke="#000" stroke-width="0.6" stroke-linejoin="round"/>
<g transform="translate(24.3,302.2) rotate(-90)"><path d="M13.3,-16.8 C13.6,-19.4 10.9,-19.6 10.3,-16.2 L6.0,1.8 C5.3,5.9 2.4,6.3 2.7,3.6" fill="none" stroke="#000" stroke-width="1.7" stroke-linecap="round"/><path d="M10.2,-15.0 C9.2,-9 7.4,-5 6.1,0.6" fill="none" stroke="#000" stroke-width="3.3" stroke-linecap="round"/><circle cx="13.1" cy="-16.5" r="1.8"/><circle cx="2.9" cy="3.4" r="1.8"/><path d="M4.0,-11.3 H14.3" stroke="#000" stroke-width="1.5"/><g transform="translate(29.90,0.00) scale(1.040,0.940)"><path d="M0.3,-7.6 C0.8,-10.3 2.3,-12.2 4.6,-11.8" fill="none" stroke="#000" stroke-width="1.5" stroke-linecap="round"/><path d="M5.3,-10.7 L3.5,-1.4" fill="none" stroke="#000" stroke-width="3.5" stroke-linecap="round"/><path d="M6.2,-8.4 C7.3,-11.6 9.8,-12.9 11.8,-11.0" fill="none" stroke="#000" stroke-width="1.7" stroke-linecap="round"/><circle cx="11.2" cy="-9.5" r="2.0"/></g><path d="M27.50,-21.10 C17.77,-13.18 17.77,-0.72 27.50,7.20 C21.10,-0.72 21.10,-13.18 27.50,-21.10Z" stroke="#000" stroke-width="0.6" stroke-linejoin="round"/><path d="M46.20,-21.10 C56.47,-13.18 56.47,-0.72 46.20,7.20 C53.13,-0.72 53.13,-13.18 46.20,-21.10Z" stroke="#000" stroke-width="0.6" stroke-linejoin="round"/></g>
<rect x="639.90" y="236.45" width="15.90" height="1.10"/>
<rect x="639.90" y="241.75" width="15.90" height="1.10"/>
<rect x="656.00" y="346.25" width="16.20" height="1.10"/>
<rect x="656.00" y="350.85" width="16.20" height="1.10"/>
<rect x="656.00" y="407.85" width="16.20" height="1.10"/>
<rect x="656.00" y="412.45" width="16.20" height="1.10"/>
<rect x="656.00" y="469.45" width="16.20" height="1.10"/>
<rect x="656.00" y="474.05" width="16.20" height="1.10"/>
<rect x="682.0" y="348.75" width="15.5" height="1.1"/>
</svg></body></html>
